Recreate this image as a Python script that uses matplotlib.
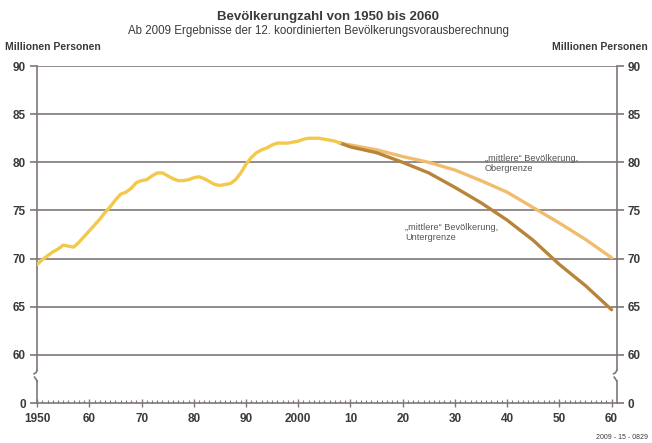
import numpy as np
import matplotlib.pyplot as plt

plt.rcParams['font.family'] = ['Liberation Sans', 'DejaVu Sans']

# Bevölkerung bis 2008 (Mio.)
hist_years = list(range(1950, 2009))
hist_vals = [69.4, 69.9, 70.3, 70.7, 71.0, 71.4, 71.3, 71.2, 71.7, 72.3,
             72.9, 73.5, 74.1, 74.8, 75.4, 76.1, 76.7, 76.9, 77.3, 77.9,
             78.1, 78.2, 78.6, 78.9, 78.9, 78.6, 78.3, 78.1, 78.1, 78.2,
             78.4, 78.5, 78.3, 78.0, 77.7, 77.6, 77.7, 77.8, 78.2, 78.9,
             79.8, 80.5, 81.0, 81.3, 81.5, 81.8, 82.0, 82.0, 82.0, 82.1,
             82.2, 82.4, 82.5, 82.5, 82.5, 82.4, 82.3, 82.2, 82.0]

# Vorausberechnung
proj_years = [2008, 2010, 2015, 2020, 2025, 2030, 2035, 2040, 2045, 2050, 2055, 2060]
upper_vals = [82.0, 81.8, 81.3, 80.6, 80.0, 79.2, 78.1, 76.9, 75.3, 73.7, 72.0, 70.1]
lower_vals = [82.0, 81.6, 81.0, 80.0, 78.9, 77.4, 75.8, 74.0, 71.9, 69.4, 67.2, 64.7]

ytick_pos = [55, 60, 65, 70, 75, 80, 85, 90]   # 55 = Achsenbruch -> 0
ytick_lab = ['0', '60', '65', '70', '75', '80', '85', '90']
xtick_pos = list(range(1950, 2061, 10))
xtick_lab = ['1950', '60', '70', '80', '90', '2000', '10', '20', '30', '40', '50', '60']

c_grid = '#7f7777'
c_text = '#3a3a3a'
c_hist = '#f2c94a'
c_upper = '#f0bd6e'
c_lower = '#b8843a'

fig = plt.figure(figsize=(6.52, 4.43), dpi=100)
ax = fig.add_axes([0.057, 0.090, 0.889, 0.761])
ax.set_xlim(1950, 2061)
ax.set_ylim(55, 90)

for v in ytick_pos[1:]:
    ax.axhline(v, color=c_grid, lw=1.2, zorder=1)

ax.plot(proj_years, upper_vals, color=c_upper, lw=2.4, zorder=3, solid_capstyle='round')
ax.plot(proj_years, lower_vals, color=c_lower, lw=2.4, zorder=4, solid_capstyle='round')
ax.plot(hist_years, hist_vals, color=c_hist, lw=2.4, zorder=5, solid_capstyle='round')

for s in ['top', 'left', 'right']:
    ax.spines[s].set_visible(False)
ax.spines['bottom'].set_color(c_grid)
ax.spines['bottom'].set_linewidth(1.2)

# vertical axes with break marks
for xv in [1950, 2061]:
    ax.plot([xv, xv], [58.4, 90], color=c_grid, lw=1.2, clip_on=False, zorder=2)
    ax.plot([xv, xv], [55, 57.3], color=c_grid, lw=1.2, clip_on=False, zorder=2)
    ax.plot([xv, xv - 0.25, xv - 0.6], [58.4, 58.15, 58.05], color=c_grid, lw=1.2,
            clip_on=False, zorder=2)
    ax.plot([xv - 0.5, xv - 0.3, xv], [57.7, 57.55, 57.3], color=c_grid, lw=1.2,
            clip_on=False, zorder=2)

ax.set_yticks(ytick_pos)
ax.set_yticklabels(ytick_lab)
ax.tick_params(axis='y', which='both', left=True, right=True, labelleft=True,
               labelright=True, direction='out', length=5, width=1.2, color=c_grid,
               labelsize=8.5, labelcolor=c_text, pad=3)

ax.set_xticks(xtick_pos)
ax.set_xticklabels(xtick_lab)
ax.set_xticks(range(1950, 2061), minor=True)
ax.tick_params(axis='x', which='major', direction='inout', length=6, width=1.0,
               color=c_grid, labelsize=8.5, labelcolor=c_text, pad=4)
ax.tick_params(axis='x', which='minor', direction='in', length=2.5, width=0.8,
               color=c_grid)
for lab in ax.get_xticklabels() + ax.get_yticklabels():
    lab.set_fontweight('bold')

fig.text(0.503, 0.962, 'Bevölkerungzahl von 1950 bis 2060', ha='center', va='center',
         fontsize=9.5, fontweight='bold', color=c_text)
fig.text(0.488, 0.930, 'Ab 2009 Ergebnisse der 12. koordinierten Bevölkerungsvorausberechnung',
         ha='center', va='center', fontsize=8.3, color=c_text)
fig.text(0.008, 0.893, 'Millionen Personen', ha='left', va='center', fontsize=7.5,
         fontweight='bold', color=c_text)
fig.text(0.994, 0.893, 'Millionen Personen', ha='right', va='center', fontsize=7.5,
         fontweight='bold', color=c_text)
fig.text(0.994, 0.013, '2009 - 15 - 0829', ha='right', va='center', fontsize=5,
         color=c_text)

ax.text(2035.7, 79.9, '„mittlere“ Bevölkerung,\nObergrenze', fontsize=6.6, color='#555555',
        ha='left', va='center', linespacing=1.1, zorder=6)
ax.text(2020.4, 72.7, '„mittlere“ Bevölkerung,\nUntergrenze', fontsize=6.6, color='#555555',
        ha='left', va='center', linespacing=1.1, zorder=6)

fig.savefig('out.png', dpi=100)
